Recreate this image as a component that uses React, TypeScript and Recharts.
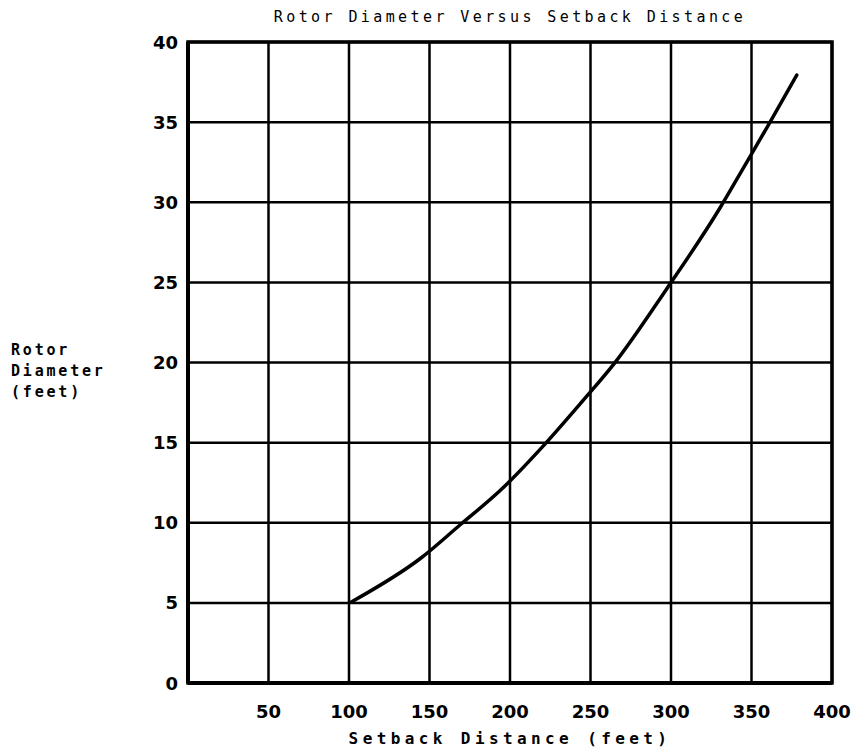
import React from 'react';
import { LineChart, Line, XAxis, YAxis, CartesianGrid, ReferenceArea } from 'recharts';

// setback distance (feet) -> rotor diameter (feet)
const setback = [101.7, 144.7, 168.9, 194.2, 221.7, 244.7, 265.2, 297.3, 330.4, 346, 359.4, 378.1];
const diameter = [5.07, 7.8, 9.86, 12.04, 14.91, 17.55, 19.99, 24.59, 29.64, 32.32, 34.63, 37.94];

const xTicks = [0, 50, 100, 150, 200, 250, 300, 350, 400];
const yTicks = [0, 5, 10, 15, 20, 25, 30, 35, 40];

const data = setback.map((s, i) => ({ setback: s, diameter: diameter[i] }));

const tickFont = '"DejaVu Sans", sans-serif';
const monoFont = '"DejaVu Sans Mono", monospace';

const XTick = (props: any) => {
  const { x, y, payload } = props;
  if (payload.value === 0) return null;
  return (
    <text x={x} y={y + 20} textAnchor="middle" dominantBaseline="central"
      fontFamily={tickFont} fontWeight="bold" fontSize={18} fill="#000">
      {payload.value}
    </text>
  );
};

const YTick = (props: any) => {
  const { x, y, payload } = props;
  return (
    <text x={x - 2} y={y} textAnchor="end" dominantBaseline="central"
      fontFamily={tickFont} fontWeight="bold" fontSize={18} fill="#000">
      {payload.value}
    </text>
  );
};

export default function App() {
  return (
    <div style={{ position: 'absolute', left: 0, top: 0, width: 854, height: 753, background: '#fff' }}>
      <div style={{
        position: 'absolute', top: 8, left: 0, width: 1020, textAlign: 'center',
        fontFamily: monoFont, fontSize: 15, letterSpacing: 3.4, color: '#000'
      }}>
        Rotor Diameter Versus Setback Distance
      </div>
      <div style={{
        position: 'absolute', top: 340, left: 11, fontFamily: monoFont, fontWeight: 'bold',
        fontSize: 15, letterSpacing: 2.8, lineHeight: '21px', color: '#000'
      }}>
        Rotor<br />Diameter<br />(feet)
      </div>
      <div style={{
        position: 'absolute', top: 729, left: 0, width: 1020, textAlign: 'center',
        fontFamily: monoFont, fontWeight: 'bold', fontSize: 16, letterSpacing: 4.4, color: '#000'
      }}>
        Setback Distance (feet)
      </div>
      <LineChart width={854} height={753} data={data}
        margin={{ top: 42, right: 22, bottom: 40, left: 148 }}>
        <CartesianGrid stroke="#000" strokeWidth={2.5} />
        <XAxis type="number" dataKey="setback" domain={[0, 400]} ticks={xTicks}
          height={30} axisLine={{ stroke: '#000', strokeWidth: 4 }} tickLine={false}
          tick={<XTick />} interval={0} />
        <YAxis type="number" domain={[0, 40]} ticks={yTicks} width={40}
          axisLine={{ stroke: '#000', strokeWidth: 4 }} tickLine={false}
          tick={<YTick />} interval={0} />
        <ReferenceArea x1={0} x2={400} y1={0} y2={40} fill="none" fillOpacity={0}
          stroke="#000" strokeWidth={3.5} ifOverflow="visible" />
        <Line type="monotone" dataKey="diameter" stroke="#000" strokeWidth={3.5}
          dot={false} strokeLinecap="round" isAnimationActive={false} />
      </LineChart>
    </div>
  );
}
